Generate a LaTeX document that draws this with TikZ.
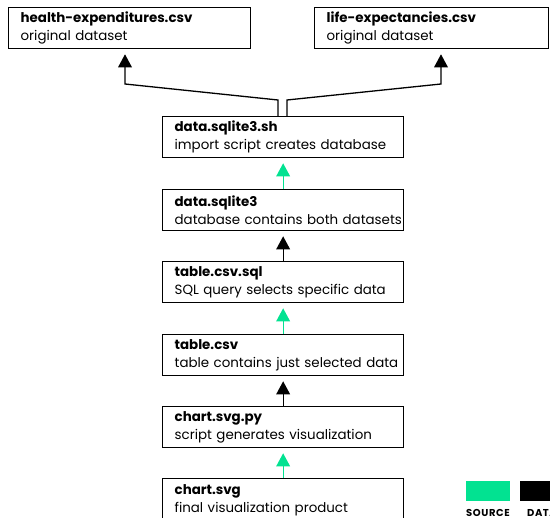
\documentclass[tikz,border=0pt]{standalone}
\usepackage{fontspec}
\setmainfont{Poppins}
\definecolor{srcgreen}{RGB}{2,226,145}
\newcommand\chainarrow[3]{%
  \draw[line width=1.3pt,draw=#1] (#2.north) -- ([yshift=-17pt]#3.south);
  \fill[fill=#1] ([yshift=-5pt]#3.south) -- ++(-7,13) -- ++(14,0) -- cycle;}
\begin{document}
\begin{tikzpicture}[x=1pt,y=-1pt,
  box/.style={draw, line width=1.3pt, minimum height=41pt, inner xsep=12pt, inner ysep=3pt,
    align=left, font=\fontsize{13.4}{18}\selectfont, anchor=north west},
  mid/.style={box, text width=217pt, minimum width=241pt},
  line/.style={line width=1.3pt},
  legend/.style={inner sep=0pt, font=\fontsize{10}{11}\bfseries\addfontfeature{LetterSpace=6}\selectfont}]
\useasboundingbox (0,0) rectangle (550,518);
\clip (0,0) rectangle (550,518);
\fill[srcgreen] (-6,-6) rectangle (-4,-4);
\draw[srcgreen] (-6,-6) -- (-4,-4);
% legend
\fill[fill=srcgreen] (466,481) rectangle (510,501);
\fill[fill=black] (520,481) rectangle (564,501);
\node[legend] (ls) at (488,512.5) {SOURCE};
\node[legend] (ld) at (542,512.5) {DATA};
\node[box, text width=218pt, minimum width=242pt] (he) at (8,7) {\mbox{\textbf{health-expenditures.csv}}\\\mbox{original dataset}};
\node[box, text width=210pt, minimum width=234pt] (le) at (314,7) {\mbox{\textbf{life-expectancies.csv}}\\\mbox{original dataset}};
\node[mid] (sh) at (162,116) {\mbox{\textbf{data.sqlite3.sh}}\\\mbox{import script creates database}};
\node[mid] (db) at (162,189) {\mbox{\textbf{data.sqlite3}}\\\mbox{database contains both datasets}};
\node[mid] (sql) at (162,261) {\mbox{\textbf{table.csv.sql}}\\\mbox{SQL query selects specific data}};
\node[mid] (csv) at (162,334) {\mbox{\textbf{table.csv}}\\\mbox{table contains just selected data}};
\node[mid] (py) at (162,406) {\mbox{\textbf{chart.svg.py}}\\\mbox{script generates visualization}};
\node[mid, minimum height=44pt] (svg) at (162,478) {\mbox{\textbf{chart.svg}}\\\mbox{final visualization product}};
% top branches
\coordinate (sl) at (278,116);
\coordinate (sr) at (287,116);
\coordinate (bl) at (278,100);
\coordinate (br) at (287,100);
\coordinate (kl) at (125,84);
\coordinate (kr) at (441,84);
\draw[line] (sl) -- (bl) -- (kl) -- ([yshift=-17pt]kl |- he.south);
\draw[line] (sr) -- (br) -- (kr) -- ([yshift=-17pt]kr |- le.south);
\fill ([yshift=-5pt]kl |- he.south) -- ++(-7,13) -- ++(14,0) -- cycle;
\fill ([yshift=-5pt]kr |- le.south) -- ++(-7,13) -- ++(14,0) -- cycle;
% chain
\chainarrow{srcgreen}{svg}{py}
\chainarrow{black}{py}{csv}
\chainarrow{srcgreen}{csv}{sql}
\chainarrow{black}{sql}{db}
\chainarrow{srcgreen}{db}{sh}
\end{tikzpicture}
\end{document}
